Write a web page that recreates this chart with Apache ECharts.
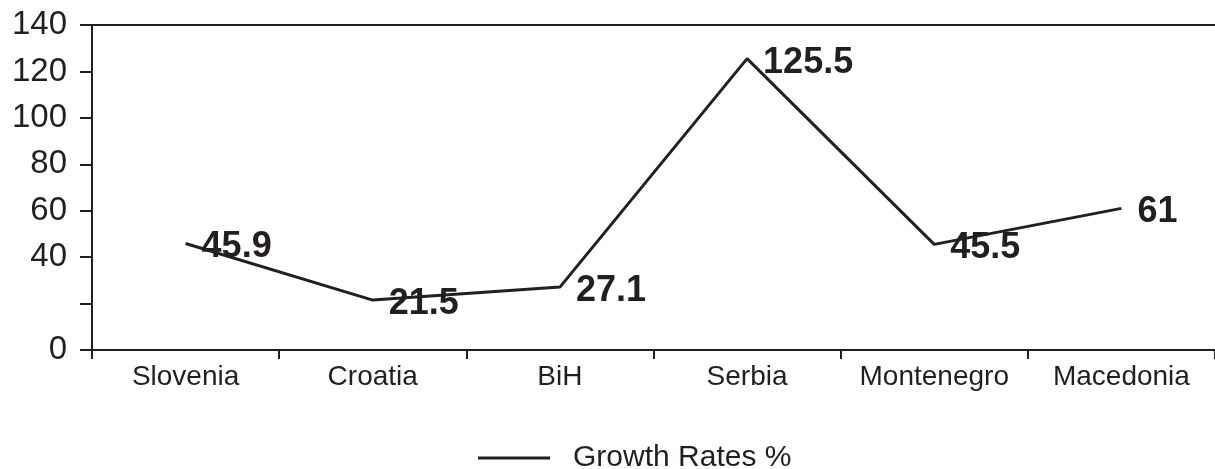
<!DOCTYPE html>
<html>
<head>
<meta charset="utf-8">
<script src="https://cdn.jsdelivr.net/npm/echarts@6/dist/echarts.min.js"></script>
<style>
  html, body { margin: 0; padding: 0; background: #fff; }
  #chart { width: 1215px; height: 469px; }
</style>
</head>
<body>
<div id="chart"></div>
<script>
// Growth rates by country
const countries = ['Slovenia', 'Croatia', 'BiH', 'Serbia', 'Montenegro', 'Macedonia'];
const growthRates = [45.9, 21.5, 27.1, 125.5, 45.5, 61];
const seriesName = 'Growth Rates %';
const yTicks = [0, 20, 40, 60, 80, 100, 120, 140];
const unlabeledTicks = [20];

const ink = '#231f20';
const chart = echarts.init(document.getElementById('chart'));

chart.setOption({
  animation: false,
  backgroundColor: '#ffffff',
  grid: { left: 92, right: -5, top: 25, bottom: 119, containLabel: false },
  legend: {
    data: [seriesName],
    left: 473,
    top: 438,
    icon: 'rect',
    itemWidth: 72,
    itemHeight: 3,
    itemStyle: { color: ink, opacity: 1 },
    textStyle: {
      fontFamily: 'Liberation Sans, Arial, sans-serif',
      fontSize: 30,
      color: ink,
      padding: [0, 0, 0, 18]
    }
  },
  xAxis: [
    {
      type: 'category',
      data: countries,
      boundaryGap: true,
      axisLine: { show: true, lineStyle: { color: ink, width: 2 } },
      axisTick: { show: true, interval: 0, length: 9, lineStyle: { color: ink, width: 2 } },
      axisLabel: {
        interval: 0,
        fontFamily: 'Liberation Sans, Arial, sans-serif',
        fontSize: 28,
        color: ink,
        margin: 13
      },
      splitLine: { show: false }
    },
    {
      // closing rule along the top of the plot
      type: 'category',
      data: countries,
      position: 'top',
      axisLine: { show: true, lineStyle: { color: ink, width: 2 } },
      axisTick: { show: false },
      axisLabel: { show: false },
      splitLine: { show: false }
    }
  ],
  yAxis: {
    type: 'value',
    min: yTicks[0],
    max: yTicks[yTicks.length - 1],
    interval: 20,
    axisLine: { show: true, lineStyle: { color: ink, width: 2 } },
    axisTick: { show: true, length: 12, lineStyle: { color: ink, width: 2 } },
    axisLabel: {
      fontFamily: 'Liberation Sans, Arial, sans-serif',
      fontSize: 33,
      color: ink,
      margin: 25,
      formatter: v => (unlabeledTicks.includes(v) ? '' : String(v))
    },
    splitLine: { show: false }
  },
  series: [
    {
      name: seriesName,
      type: 'line',
      data: growthRates,
      symbol: 'circle',
      symbolSize: 0,
      showSymbol: true,
      itemStyle: { color: ink },
      color: ink,
      lineStyle: { color: ink, width: 3 },
      label: {
        show: true,
        position: 'right',
        distance: 16,
        offset: [0, 4],
        fontFamily: 'Liberation Sans, Arial, sans-serif',
        fontWeight: 'bold',
        fontSize: 36,
        color: ink
      }
    }
  ]
});
</script>
</body>
</html>
